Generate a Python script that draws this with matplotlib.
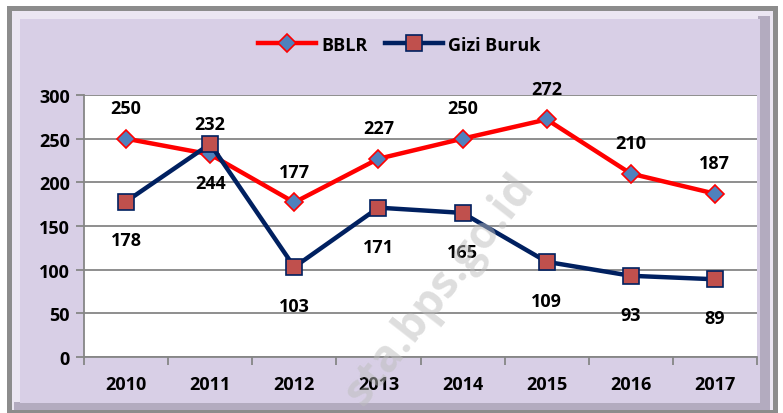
import matplotlib.pyplot as plt
from matplotlib.patches import Rectangle

years = ['2010', '2011', '2012', '2013', '2014', '2015', '2016', '2017']
bblr = [250, 232, 177, 227, 250, 272, 210, 187]
gizi_buruk = [178, 244, 103, 171, 165, 109, 93, 89]

plt.rcParams['font.family'] = ['Open Sans', 'DejaVu Sans']
plt.rcParams['font.weight'] = 'bold'
FS = 13

W, H = 783, 414
fig = plt.figure(figsize=(W / 100, H / 100), dpi=100)
fig.patch.set_facecolor('white')

# frame with bevel
def box(x0, y0, w, h, c):
    fig.patches.append(Rectangle((x0 / W, y0 / H), w / W, h / H, transform=fig.transFigure,
                                 facecolor=c, edgecolor='none', zorder=-5))

box(7, 0, 771, 407, '#8c8c8c')
box(12, 3, 761, 399, '#ebe6f2')
box(758, 5, 12, 392, '#b3abbf')
box(14, 3, 756, 8, '#b3abbf')
box(20, 10, 740, 384, '#d8cfe6')

ax = fig.add_axes([84 / W, 56 / H, 673 / W, 262 / H])
ax.set_zorder(1)
ax.set_facecolor('white')
x = list(range(len(years)))

ax.plot(x, bblr, color='#ff0000', lw=3.2, marker='D', ms=9.5,
        mfc='#4f81bd', mec='#ff0000', mew=1.2, label='BBLR', zorder=3)
ax.plot(x, gizi_buruk, color='#002060', lw=3.2, marker='s', ms=12,
        mfc='#c0504d', mec='#002060', mew=1.2, label='Gizi Buruk', zorder=4)

for i, v in enumerate(bblr):
    ax.annotate(str(v), (i, v), xytext=(0, 22), textcoords='offset points',
                ha='center', va='center', fontsize=FS, fontweight='bold', zorder=5,
                annotation_clip=False)
for i, v in enumerate(gizi_buruk):
    ax.annotate(str(v), (i, v), xytext=(0, -28), textcoords='offset points',
                ha='center', va='center', fontsize=FS, fontweight='bold', zorder=5)

ax.set_xlim(-0.5, 7.5)
ax.set_ylim(0, 300)
ax.set_yticks(range(0, 301, 50))
ax.yaxis.grid(True, color='#868686', lw=1.3)
ax.set_axisbelow(True)
ax.set_xticks([i + 0.5 for i in range(-1, 8)])
ax.set_xticks(x, minor=True)
ax.set_xticklabels([''] * 9)
ax.set_xticklabels(years, minor=True)
ax.tick_params(axis='x', which='major', length=6, width=1.3, color='#868686', direction='out')
ax.tick_params(axis='x', which='minor', length=0, pad=13, labelsize=FS)
ax.tick_params(axis='y', length=6, width=1.3, color='#868686', labelsize=FS, pad=4)
for lab in ax.get_xticklabels(minor=True) + ax.get_yticklabels():
    lab.set_fontweight('bold')
for s in ['top', 'right']:
    ax.spines[s].set_visible(False)
for s in ['left', 'bottom']:
    ax.spines[s].set_color('#868686')
    ax.spines[s].set_linewidth(1.3)

# watermark
fig.text(440 / W, 1 - 290 / H, 'sta.bps.go.id', rotation=52, fontsize=32,
         color='#bdbdbd', alpha=0.5, ha='center', va='center', zorder=10)

leg = fig.legend(loc='center', bbox_to_anchor=(0.51, 0.89), ncol=2, frameon=False,
                 fontsize=FS, handlelength=3.2, columnspacing=1.0, handletextpad=0.3)
leg.set_zorder(2)
for t in leg.get_texts():
    t.set_fontweight('bold')

fig.savefig('out.png', dpi=100, facecolor=fig.get_facecolor())
